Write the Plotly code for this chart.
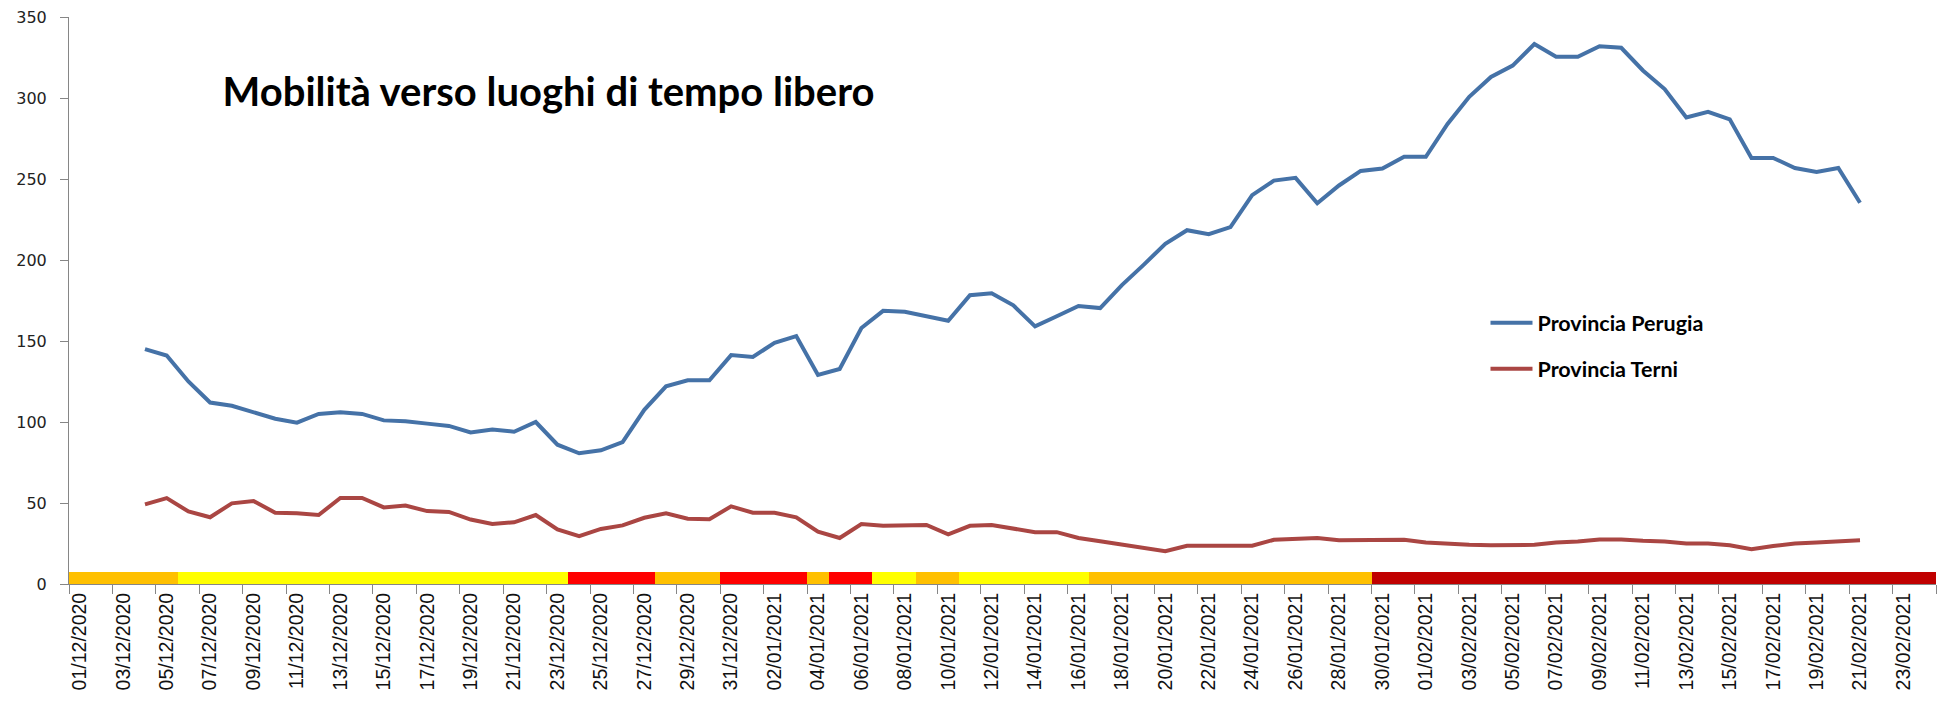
import pandas as pd
import plotly.graph_objects as go

# ---- categories (one per day) ----
dates = [d.strftime("%d/%m/%Y") for d in pd.date_range("2020-12-01", "2021-02-24", freq="D")]

# ---- series (04/12/2020 .. 21/02/2021) ----
series_dates = dates[3:83]
perugia = [145, 141, 125, 112, 110, 106, 102, 99.6, 105, 106,
           105, 101, 100.5, 99, 97.6, 93.5, 95.4, 94, 100, 86,
           80.7, 82.5, 87.6, 107.5, 122, 125.7, 125.7, 141.3, 140.2, 148.8,
           153, 129, 132.7, 158, 168.6, 168, 165, 162.5, 178.3, 179.4,
           172, 159, 165.3, 171.6, 170.3, 184.5, 197, 210, 218.4, 215.9,
           220.3, 240, 249, 250.7, 235, 246, 255, 256.5, 263.7, 263.7,
           284, 300.7, 313, 320, 333.3, 325.5, 325.5, 332, 331, 317,
           305.5, 288, 291.5, 286.8, 263, 263, 256.8, 254.3, 256.8, 235.3]
terni = [49.2, 53, 44.8, 41.2, 49.8, 51.2, 44, 43.7, 42.6, 53.1,
         53.1, 47.3, 48.4, 45, 44.5, 39.8, 37, 38.1, 42.6, 33.7,
         29.5, 34, 36.2, 40.9, 43.7, 40.3, 40, 47.9, 44, 44,
         41.2, 32.3, 28.4, 37, 35.9, 35.9, 36.4, 30.6, 35.9, 36.4,
         34.2, 32, 32, 28.4, 26.4, 24.5, 22.3, 20.3, 23.6, 23.6,
         23.6, 23.6, 27.3, 28.1, 28.4, 27, 27.3, 27.3, 27.3, 25.6,
         24.8, 24.2, 23.9, 23.9, 24.2, 25.6, 26.2, 27.5, 27.5, 26.7,
         26.2, 25, 25, 23.9, 21.4, 23.4, 25, 25.6, 26.2, 27]

# ---- zone colour band (run lengths, in days) ----
zone_names = ["arancione", "gialla", "rossa", "arancione", "rossa", "arancione",
              "rossa", "gialla", "arancione", "gialla", "arancione", "rossa_scura"]
zone_days = [5, 18, 4, 3, 4, 1, 2, 2, 2, 6, 13, 26]
zone_height = 7.5
zone_colors = {"arancione": "#FFC000", "gialla": "#FFFF00",
               "rossa": "#FF0000", "rossa_scura": "#C00000"}

day_zone = []
for name, n in zip(zone_names, zone_days):
    day_zone += [name] * n

fig = go.Figure()
fig.add_trace(go.Bar(
    x=dates, y=[zone_height] * len(dates),
    marker=dict(color=[zone_colors[z] for z in day_zone], line=dict(width=0)),
    width=1.0, showlegend=False, hoverinfo="skip"))
fig.add_trace(go.Scatter(
    x=series_dates, y=perugia, mode="lines", name="Provincia Perugia",
    line=dict(color="#4572A7", width=4), legendgroup="a"))
fig.add_trace(go.Scatter(
    x=series_dates, y=terni, mode="lines", name="Provincia Terni",
    line=dict(color="#AA4643", width=4), legendgroup="b"))

axis_col = "#868686"
fig.update_layout(
    width=1959, height=706,
    margin=dict(l=69, r=23, t=17, b=122),
    paper_bgcolor="white", plot_bgcolor="white",
    bargap=0,
    title=dict(text="<b>Mobilità verso luoghi di tempo libero</b>",
               font=dict(family="Lato", size=40, color="black"),
               x=0.28, xanchor="center", y=0.869, yanchor="middle"),
    legend=dict(x=0.7587, y=0.497, xanchor="left", yanchor="top",
                font=dict(family="Lato", size=21.5, color="black", weight="bold"),
                tracegroupgap=15, itemwidth=42, bgcolor="rgba(0,0,0,0)"),
    xaxis=dict(type="category", categoryorder="array", categoryarray=dates,
               range=[-0.5, len(dates) - 0.5], automargin=False,
               dtick=2, tickson="boundaries", tickangle=-90,
               showline=True, linecolor=axis_col, linewidth=1,
               ticks="outside", ticklen=9, tickcolor=axis_col,
               showgrid=False, zeroline=False,
               tickfont=dict(family="Liberation Sans", size=19.5, color="#111111")),
    yaxis=dict(range=[0, 350], dtick=50, showline=True, linecolor=axis_col,
               linewidth=1, ticks="outside", ticklen=8, tickcolor=axis_col,
               showgrid=False, zeroline=False, ticklabelstandoff=10, automargin=False,
               tickfont=dict(family="DejaVu Sans", size=16, color="#222222")),
)

fig.write_html("out.html", config={"displayModeBar": False},
               post_script="document.body.style.margin='0';")
